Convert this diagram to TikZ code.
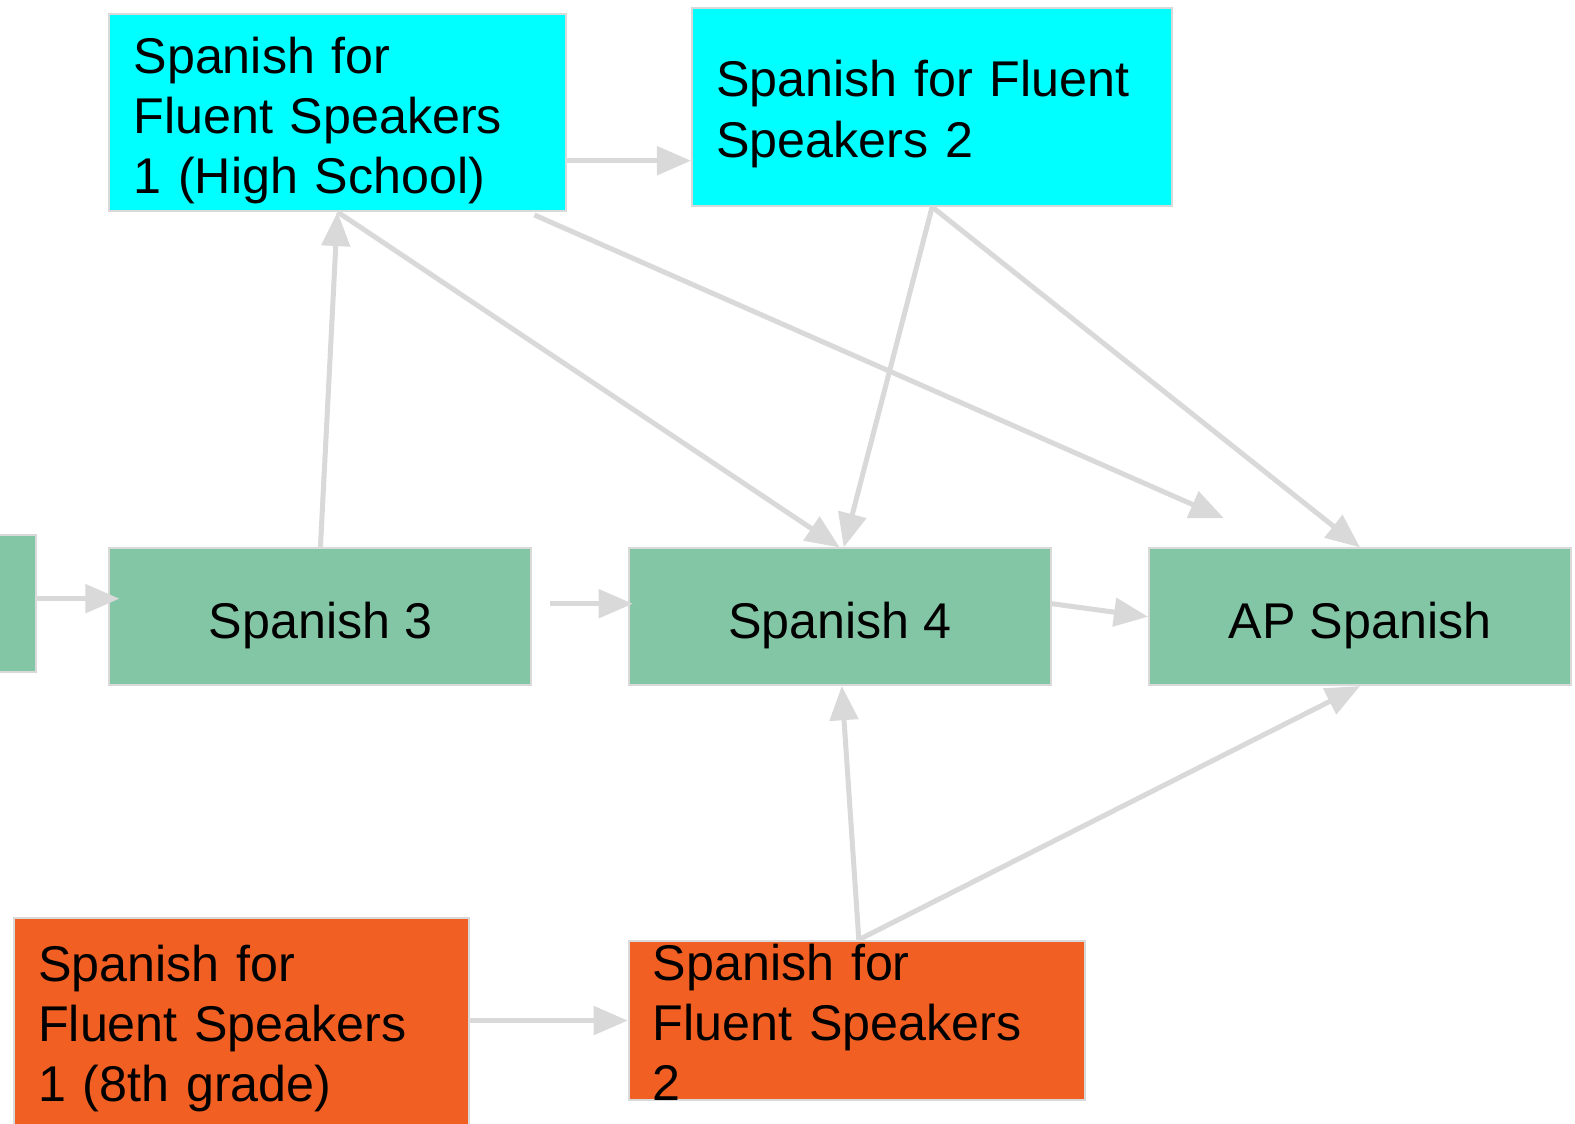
\documentclass[tikz,border=0pt]{standalone}
\usepackage{fontspec}
\setmainfont{Liberation Sans}
\usetikzlibrary{arrows.meta}
\definecolor{coregreen}{HTML}{83C6A6}
\definecolor{hscyan}{HTML}{00FFFF}
\definecolor{msorange}{HTML}{F15F22}
\definecolor{edgegray}{HTML}{D9D9D9}
\def\coursefont{\fontsize{25}{30}\selectfont}

\begin{document}
\begin{tikzpicture}[x=0.5pt,y=-0.5pt,-{Triangle[length=17pt,width=14pt]},draw=edgegray,line width=2.5pt]
    \tikzstyle{course}=[rectangle,draw=edgegray,line width=1pt,inner sep=0pt,font=\coursefont]
    \tikzstyle{core course}=[course,fill=coregreen,minimum width=210pt,minimum height=68pt,align=center,text height=22pt,text depth=0pt]
    \tikzstyle{fluent course}=[course,align=left,inner xsep=12pt,text height=18pt]
    \tikzstyle{hs course}=[fluent course,fill=hscyan]
    \tikzstyle{ms course}=[fluent course,fill=msorange]

    \useasboundingbox (0,0) rectangle (1568,1119);

    \node[core course,minimum width=100pt] (S-2) at (-64, 601) {};
    \node[core course] (S-3) at (319, 614) {Spanish 3};
    \node[core course] (S-4) at (836, 614) {Spanish 4};
    \node[core course] (AP) at (1354, 614) {AP Spanish};

    \node[hs course,text width=203pt,text depth=57pt,minimum height=98pt] (FH-1) at (336, 112)
        {Spanish for\\Fluent Speakers\\1 (High School)};
    \node[hs course,text width=215pt,text depth=28pt,minimum height=98.5pt] (FH-2) at (928, 106.5)
        {Spanish for Fluent\\Speakers 2};

    \node[ms course,text width=202.5pt,text depth=61pt,minimum height=106pt] (FM-1) at (240.5, 1020)
        {Spanish for\\Fluent Speakers\\1 (8th grade)};
    \node[ms course,text width=203pt,text depth=58pt,minimum height=79.5pt] (FM-2) at (853, 1016)
        {Spanish for\\Fluent Speakers\\2};

    \path ([yshift=2.5pt]S-2.east) edge ([xshift=5.5pt,yshift=9pt]S-3.west);
    \path ([xshift=9pt,yshift=6.5pt]S-3.east) edge ([xshift=2.5pt,yshift=6.5pt]S-4.west);
    \path ([yshift=6.5pt]S-4.east) edge (AP.west);

    \path (S-3.north) edge (FH-1.south);
    \path ([yshift=-24pt]FH-1.east) edge ([yshift=-26.75pt]FH-2.west);
    \path (FH-1.south) edge (S-4.north);
    \path ([xshift=98pt,yshift=-1.5pt]FH-1.south) edge ([xshift=-67.75pt,yshift=14.5pt]AP.north);

    \path (FH-2.south) edge ([xshift=2pt]S-4.north);
    \path (FH-2.south) edge (AP.north);

    \path ([yshift=2pt]FM-1.east) edge (FM-2.west);
    \path ([xshift=1pt]FM-2.north) edge ([xshift=1pt]S-4.south);
    \path ([xshift=1pt]FM-2.north) edge (AP.south);

\end{tikzpicture}
\end{document}
